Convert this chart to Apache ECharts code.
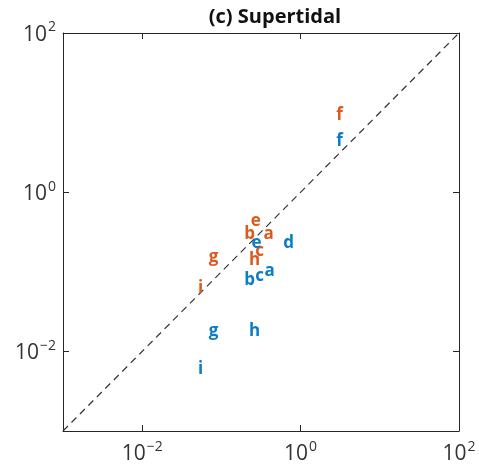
<!DOCTYPE html>
<html>
<head>
<meta charset="utf-8">
<script src="https://cdn.jsdelivr.net/npm/echarts@6/dist/echarts.min.js"></script>
<style>
  html, body { margin: 0; padding: 0; background: #fff; }
  #chart { width: 479px; height: 466px; }
</style>
</head>
<body>
<div id="chart"></div>
<script>
// site labels
const labels = ['a', 'b', 'c', 'd', 'e', 'f', 'g', 'h', 'i']
// orange set (no d)
const orangeX = [0.394, 0.227, 0.303, null, 0.272, 3.1, 0.0797, 0.262, 0.0546]
const orangeY = [0.293, 0.293, 0.182, null, 0.435, 9.3, 0.153, 0.139, 0.0618]
// blue set
const blueX = [0.406, 0.227, 0.303, 0.705, 0.278, 3.1, 0.0797, 0.262, 0.0546]
const blueY = [0.102, 0.0795, 0.0875, 0.226, 0.23, 4.4, 0.0178, 0.0178, 0.0059]
// 1:1 line and ticks
const oneToOne = [0.001, 100]
const tickValues = [0.01, 1, 100]

const orange = '#DD5A1E'
const blue = '#0A7CC8'
const axisColor = '#262626'

function pts(xs, ys) {
  const out = []
  xs.forEach((x, i) => {
    if (x != null) out.push({ value: [x, ys[i]], name: labels[i] })
  })
  return out
}

function powLabel(v) {
  const e = Math.round(Math.log10(v))
  return '{b|10}{s|' + (e < 0 ? '\u2212' + (-e) : e) + '}'
}

const rich = {
  b: { fontSize: 21, color: '#333', fontFamily: 'Open Sans', verticalAlign: 'bottom' },
  s: { fontSize: 14, color: '#333', fontFamily: 'Open Sans', verticalAlign: 'bottom', padding: [0, 0, 11, 1] }
}

function letterSeries(data, color) {
  return {
    type: 'scatter',
    data: data,
    symbol: 'circle',
    symbolSize: 1,
    itemStyle: { color: 'rgba(0,0,0,0)', opacity: 1 },
    label: {
      show: true,
      position: 'inside',
      formatter: p => p.name,
      color: color,
      fontSize: 17,
      fontWeight: 'bold',
      fontFamily: 'Open Sans'
    },
    z: 5
  }
}

const baseAxis = {
  type: 'log',
  logBase: 10,
  min: 0.001,
  max: 100,
  axisLine: { show: true, lineStyle: { color: axisColor, width: 1 } },
  splitLine: { show: false },
  minorTick: { show: false }
}

const chart = echarts.init(document.getElementById('chart'))
chart.setOption({
  animation: false,
  title: {
    text: '(c) Supertidal',
    left: 270,
    top: 2,
    textAlign: 'center',
    textStyle: { fontSize: 20, fontWeight: 'bold', color: '#111', fontFamily: 'Open Sans' }
  },
  grid: { left: 63, top: 33, width: 396, height: 398, containLabel: false },
  xAxis: [
    Object.assign({}, baseAxis, {
      position: 'bottom',
      axisTick: { show: true, inside: true, length: 6, customValues: tickValues, lineStyle: { color: axisColor } },
      axisLabel: { customValues: tickValues, formatter: powLabel, rich: rich, margin: 9 }
    }),
    Object.assign({}, baseAxis, {
      position: 'top',
      axisTick: { show: true, inside: true, length: 6, customValues: tickValues, lineStyle: { color: axisColor } },
      axisLabel: { show: false }
    })
  ],
  yAxis: [
    Object.assign({}, baseAxis, {
      position: 'left',
      axisTick: { show: true, inside: true, length: 6, customValues: tickValues, lineStyle: { color: axisColor } },
      axisLabel: { customValues: tickValues, formatter: powLabel, rich: rich, margin: 7 }
    }),
    Object.assign({}, baseAxis, {
      position: 'right',
      axisTick: { show: true, inside: true, length: 6, customValues: tickValues, lineStyle: { color: axisColor } },
      axisLabel: { show: false }
    })
  ],
  series: [
    {
      type: 'line',
      data: oneToOne.map(v => [v, v]),
      symbol: 'none',
      lineStyle: { color: '#333', width: 1.2, type: [7, 5] },
      z: 1
    },
    letterSeries(pts(orangeX, orangeY), orange),
    letterSeries(pts(blueX, blueY), blue)
  ]
})
</script>
</body>
</html>
